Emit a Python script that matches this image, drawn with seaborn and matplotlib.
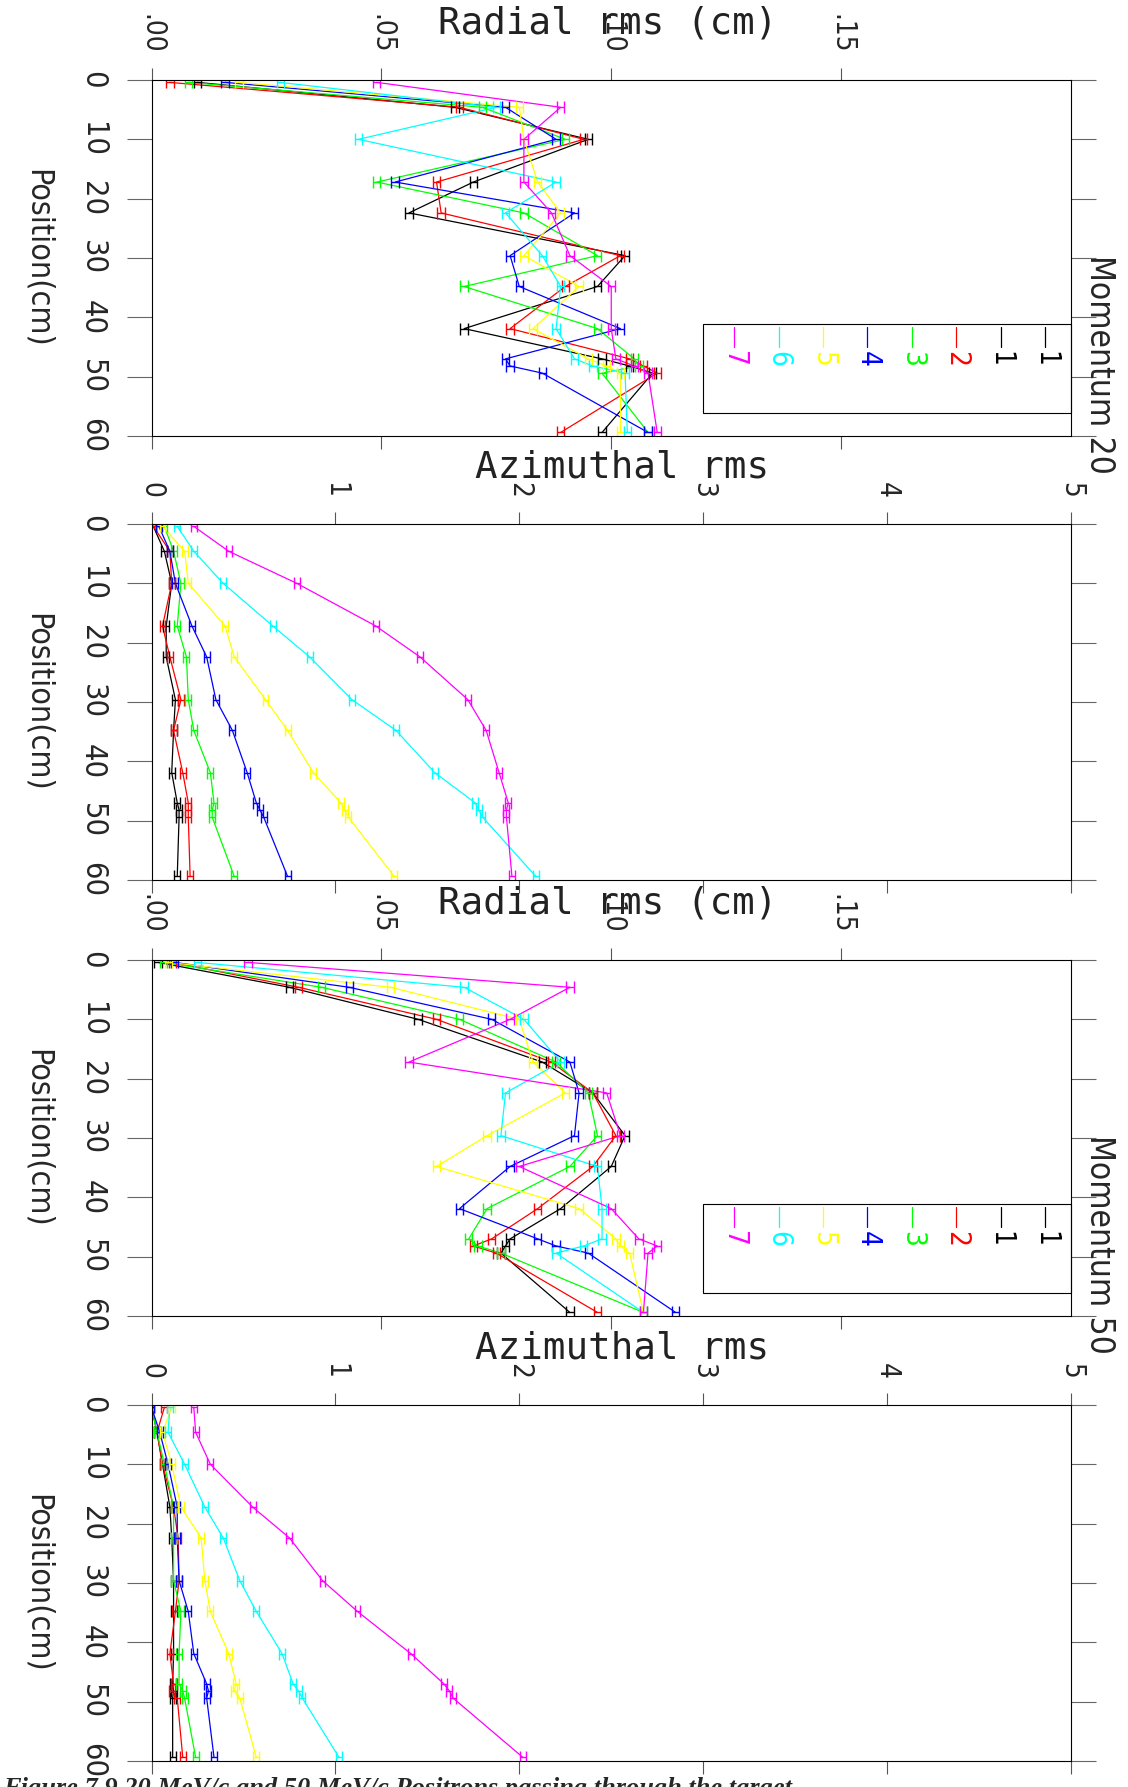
import numpy as np
import pandas as pd
import matplotlib
matplotlib.use('Agg')
import matplotlib.pyplot as plt
import seaborn as sns
from matplotlib.patches import Rectangle

# ---------------- data ----------------
POSITION = [0.4, 4.6, 10.0, 17.2, 22.4, 29.6, 34.8, 41.9, 47.0, 48.2, 49.4, 59.4]
SERIES = ['1', '2', '3', '4', '5', '6', '7']
COLORS = ['#000000', '#ff0000', '#00ff00', '#0000ff', '#ffff00', '#00ffff', '#ff00ff']
LEGEND_LABELS = ['1', '1', '2', '3', '4', '5', '6', '7']
LEGEND_COLORS = ['#000000', '#000000', '#ff0000', '#00ff00', '#0000ff', '#ffff00', '#00ffff', '#ff00ff']

# radial rms (cm), 20 MeV/c
rad20_1 = [0.010, 0.066, 0.095, 0.070, 0.056, 0.103, 0.097, 0.068, 0.098, 0.104, 0.109, 0.098]
rad20_2 = [0.004, 0.067, 0.094, 0.062, 0.063, 0.102, 0.090, 0.078, 0.104, 0.107, 0.110, 0.089]
rad20_3 = [0.008, 0.072, 0.090, 0.049, 0.081, 0.097, 0.068, 0.097, 0.105, 0.106, 0.098, 0.108]
rad20_4 = [0.016, 0.077, 0.088, 0.053, 0.092, 0.078, 0.080, 0.102, 0.077, 0.078, 0.085, 0.108]
rad20_5 = [0.019, 0.080, 0.081, 0.084, 0.089, 0.081, 0.093, 0.083, 0.095, 0.099, 0.102, 0.102]
rad20_6 = [0.028, 0.075, 0.045, 0.088, 0.077, 0.085, 0.089, 0.088, 0.092, 0.096, 0.103, 0.1035]
rad20_7 = [0.049, 0.089, 0.081, 0.081, 0.087, 0.091, 0.100, 0.100, 0.101, 0.105, 0.108, 0.110]

# azimuthal rms, 20 MeV/c
azi20_1 = [0.01, 0.07, 0.11, 0.08, 0.08, 0.13, 0.12, 0.11, 0.14, 0.15, 0.15, 0.14]
azi20_2 = [0.01, 0.10, 0.11, 0.06, 0.10, 0.16, 0.12, 0.17, 0.20, 0.20, 0.20, 0.21]
azi20_3 = [0.07, 0.12, 0.16, 0.14, 0.19, 0.20, 0.23, 0.32, 0.34, 0.33, 0.33, 0.45]
azi20_4 = [0.04, 0.10, 0.13, 0.22, 0.30, 0.35, 0.44, 0.52, 0.57, 0.59, 0.61, 0.74]
azi20_5 = [0.06, 0.18, 0.20, 0.40, 0.45, 0.62, 0.74, 0.88, 1.03, 1.05, 1.07, 1.32]
azi20_6 = [0.14, 0.23, 0.39, 0.66, 0.86, 1.09, 1.33, 1.54, 1.76, 1.78, 1.80, 2.09]
azi20_7 = [0.23, 0.42, 0.79, 1.22, 1.46, 1.72, 1.82, 1.89, 1.94, 1.93, 1.93, 1.96]

# radial rms (cm), 50 MeV/c
rad50_1 = [0.0014, 0.030, 0.058, 0.085, 0.096, 0.103, 0.100, 0.089, 0.078, 0.077, 0.076, 0.091]
rad50_2 = [0.0045, 0.032, 0.062, 0.087, 0.096, 0.101, 0.096, 0.084, 0.074, 0.070, 0.075, 0.097]
rad50_3 = [0.0026, 0.037, 0.067, 0.088, 0.095, 0.097, 0.091, 0.073, 0.069, 0.071, 0.076, 0.107]
rad50_4 = [0.005, 0.043, 0.074, 0.091, 0.093, 0.092, 0.078, 0.067, 0.084, 0.088, 0.095, 0.114]
rad50_5 = [0.0037, 0.052, 0.080, 0.083, 0.090, 0.073, 0.062, 0.093, 0.101, 0.102, 0.104, 0.107]
rad50_6 = [0.010, 0.068, 0.081, 0.089, 0.077, 0.076, 0.097, 0.098, 0.098, 0.094, 0.088, 0.107]
rad50_7 = [0.021, 0.091, 0.078, 0.056, 0.099, 0.102, 0.080, 0.100, 0.106, 0.110, 0.108, 0.107]

# azimuthal rms, 50 MeV/c
azi50_1 = [0.00, 0.03, 0.06, 0.10, 0.11, 0.12, 0.12, 0.12, 0.115, 0.12, 0.115, 0.115]
azi50_2 = [0.07, 0.03, 0.06, 0.12, 0.145, 0.15, 0.13, 0.10, 0.12, 0.11, 0.14, 0.17]
azi50_3 = [0.00, 0.03, 0.07, 0.12, 0.12, 0.12, 0.16, 0.15, 0.15, 0.17, 0.18, 0.24]
azi50_4 = [0.00, 0.045, 0.09, 0.14, 0.14, 0.15, 0.20, 0.23, 0.30, 0.31, 0.30, 0.34]
azi50_5 = [0.11, 0.06, 0.11, 0.16, 0.27, 0.29, 0.32, 0.42, 0.46, 0.45, 0.48, 0.57]
azi50_6 = [0.10, 0.09, 0.18, 0.29, 0.39, 0.48, 0.57, 0.71, 0.77, 0.80, 0.82, 1.02]
azi50_7 = [0.23, 0.24, 0.32, 0.55, 0.75, 0.93, 1.12, 1.41, 1.59, 1.62, 1.64, 2.02]

RAD_TICKS = [0.0, 0.05, 0.10, 0.15]
RAD_TICKLABELS = ['.00', '.05', '.10', '.15']
AZI_TICKS = [0, 1, 2, 3, 4, 5]
AZI_TICKLABELS = ['0', '1', '2', '3', '4', '5']
POS_TICKS = [0, 10, 20, 30, 40, 50, 60]

CAPTION = "Figure 7.9 20 MeV/c and 50 MeV/c Positrons passing through the target"

# ---------------- style ----------------
sns.set_theme(style='white')
SANS = ['DejaVu Sans']
MONO = ['DejaVu Sans Mono']
plt.rcParams['font.family'] = SANS
plt.rcParams['font.stretch'] = 'condensed'

W, H = 1128, 1787
fig = plt.figure(figsize=(W / 100, H / 100), dpi=100)

AX_LEFT, AX_RIGHT = 151.5, 1071
TOPS = [80, 524, 960, 1405]
BOTTOMS = [436, 880, 1316, 1761]

panels = [
    dict(title='Radial rms (cm)', vals=[rad20_1, rad20_2, rad20_3, rad20_4, rad20_5, rad20_6, rad20_7],
         xmax=0.20, ticks=RAD_TICKS, labels=RAD_TICKLABELS, err=0.0008, momentum='Momentum 20', tx=0.4965),
    dict(title='Azimuthal rms', vals=[azi20_1, azi20_2, azi20_3, azi20_4, azi20_5, azi20_6, azi20_7],
         xmax=5, ticks=AZI_TICKS, labels=AZI_TICKLABELS, err=0.016, momentum=None, tx=0.512),
    dict(title='Radial rms (cm)', vals=[rad50_1, rad50_2, rad50_3, rad50_4, rad50_5, rad50_6, rad50_7],
         xmax=0.20, ticks=RAD_TICKS, labels=RAD_TICKLABELS, err=0.0008, momentum='Momentum 50', tx=0.4965),
    dict(title='Azimuthal rms', vals=[azi50_1, azi50_2, azi50_3, azi50_4, azi50_5, azi50_6, azi50_7],
         xmax=5, ticks=AZI_TICKS, labels=AZI_TICKLABELS, err=0.016, momentum=None, tx=0.512),
]

for p, top, bot in zip(panels, TOPS, BOTTOMS):
    ax = fig.add_axes([AX_LEFT / W, 1 - bot / H, (AX_RIGHT - AX_LEFT) / W, (bot - top) / H])

    df = pd.concat([pd.DataFrame({'pos': POSITION, 'rms': v, 'series': s})
                    for s, v in zip(SERIES, p['vals'])], ignore_index=True)
    sns.lineplot(data=df, x='rms', y='pos', hue='series', palette=COLORS, estimator=None,
                 sort=False, legend=False, linewidth=0.9, ax=ax)
    for s, c in zip(SERIES, COLORS):
        d = df[df['series'] == s]
        ax.errorbar(d['rms'], d['pos'], xerr=p['err'], fmt='none', ecolor=c,
                    elinewidth=1.0, capsize=4, capthick=1.0)

    ax.set_xlim(0, p['xmax'])
    ax.set_ylim(60, 0)
    ax.set_xlabel('')
    ax.set_ylabel('Position(cm)', fontsize=23, rotation=-90, ha='center', va='center')
    ax.yaxis.set_label_coords(-0.124, 0.5)

    ax.set_xticks(p['ticks'])
    ax.set_xticklabels(p['labels'])
    ax.set_yticks(POS_TICKS)
    ax.set_yticklabels([str(t) for t in POS_TICKS])
    ax.tick_params(axis='x', top=True, bottom=True, labeltop=True, labelbottom=False,
                   direction='out', length=9, width=0.8, color='#555555', pad=10,
                   labelsize=20, labelrotation=-90)
    ax.tick_params(axis='y', left=True, right=True, labelleft=True, labelright=False,
                   direction='out', length=18, width=0.8, color='#666666', pad=14,
                   labelsize=22, labelrotation=-90)
    for t in ax.get_yticklabels():
        t.set_va('center')
    for t in ax.get_xticklabels():
        t.set_ha('center')
    for sp in ax.spines.values():
        sp.set_color('black')
        sp.set_linewidth(0.8)
    ax.grid(False)

    ax.text(p['tx'], 1.16, p['title'], transform=ax.transAxes, ha='center', va='center',
            fontsize=27, family=MONO, color='#222222')

    if p['momentum']:
        ax.text(1.0315, 0.202, p['momentum'], transform=ax.transAxes, rotation=-90,
                ha='center', va='center', fontsize=24, clip_on=False)
        # legend box drawn by hand (entries are rotated like the rest of the page)
        ax.add_patch(Rectangle((0.6002, 0.0646), 0.3998, 0.25, transform=ax.transAxes,
                               fill=False, edgecolor='black', linewidth=0.8, clip_on=False))
        for i, (lab, col) in enumerate(zip(LEGEND_LABELS, LEGEND_COLORS)):
            xe = 0.9717 - i * 0.0483
            ax.plot([xe, xe], [0.306, 0.250], transform=ax.transAxes, color=col,
                    linewidth=0.9, clip_on=False)
            ax.text(xe, 0.238, lab, transform=ax.transAxes, rotation=-90, ha='center',
                    va='top', fontsize=20, color=col)

fig.text(3 / W, 1 - 1777 / H, CAPTION, ha='left', va='top', fontsize=19,
         family=['Liberation Serif', 'DejaVu Serif'], fontweight='bold', fontstyle='italic')

fig.savefig('out.png', dpi=100)
